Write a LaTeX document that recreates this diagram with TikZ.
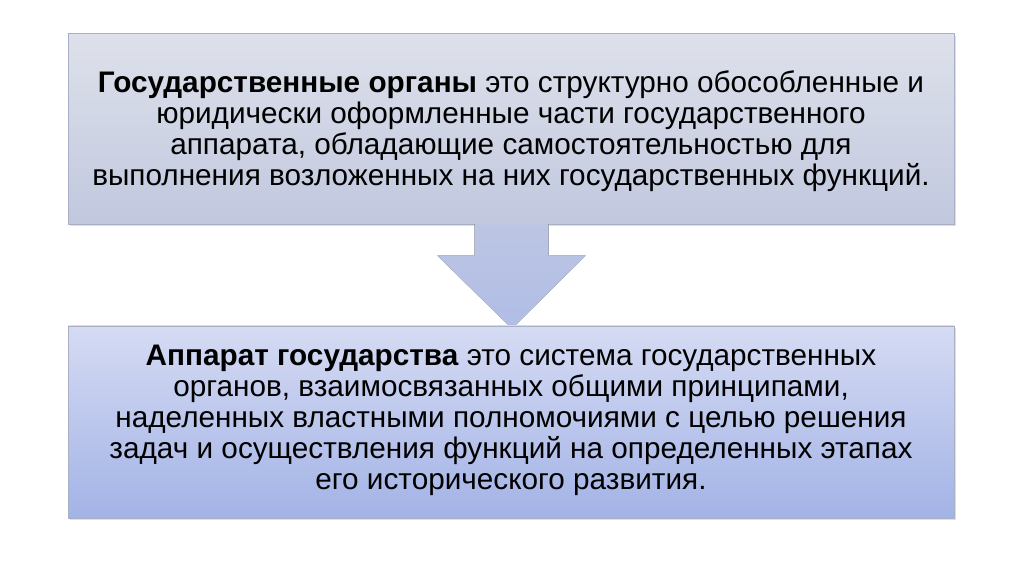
\documentclass[tikz,border=0pt]{standalone}
\usepackage{fontspec}
\setmainfont{Liberation Sans}
\usepackage{tikz}
\usetikzlibrary{calc,shadows}
\definecolor{topA}{HTML}{DEE1EB}
\definecolor{topB}{HTML}{C1C8DE}
\definecolor{botA}{HTML}{D5DBF3}
\definecolor{botB}{HTML}{A3B3E6}
\definecolor{arrA}{HTML}{BCC5E2}
\definecolor{arrB}{HTML}{B0BDE6}
\definecolor{edge}{HTML}{A9AFC4}
\begin{document}
\begin{tikzpicture}[x=0.75pt,y=0.75pt,
		defbox/.style={draw=edge, line width=0.4pt, minimum width=664.5pt, minimum height=143pt, align=center, inner sep=0pt, drop shadow={shadow xshift=1.5pt, shadow yshift=-1.5pt, opacity=0.25}},
		deftext/.style={font=\fontsize{22.3}{23.3}\selectfont}]
		\useasboundingbox (0,0) rectangle (1024,574);
		\node [defbox, top color=topA, bottom color=topB] (organy) at (511,445) {};
		\node [deftext, align=center] (organytext) at (511,443) {\textbf{Государственные органы} это структурно обособленные и\\юридически оформленные части государственного\\аппарата, обладающие самостоятельностью для\\выполнения возложенных на них государственных функций.};
		\fill [top color=arrA, bottom color=arrB]
			($(organy.south)+(-36.5,0.5)$) -- ($(organy.south)+(-36.5,-31)$) -- ($(organy.south)+(-73.5,-31)$)
			-- ($(organy.south)+(1,-104)$) -- ($(organy.south)+(74.5,-31)$) -- ($(organy.south)+(37.5,-31)$)
			-- ($(organy.south)+(37.5,0.5)$) -- cycle;
		\draw [edge!80, line width=0.3pt]
			($(organy.south)+(-36.5,0)$) -- ($(organy.south)+(-36.5,-31)$) -- ($(organy.south)+(-73.5,-31)$)
			-- ($(organy.south)+(1,-104)$) -- ($(organy.south)+(74.5,-31)$) -- ($(organy.south)+(37.5,-31)$)
			-- ($(organy.south)+(37.5,0)$);
		\node [defbox, top color=botA, bottom color=botB, minimum height=144pt] (apparat) at (511,152) {};
		\node [deftext, align=center] (apparattext) at (511,154) {\textbf{Аппарат государства} это система государственных\\органов, взаимосвязанных общими принципами,\\наделенных властными полномочиями с целью решения\\задач и осуществления функций на определенных этапах\\его исторического развития.};
	\end{tikzpicture}
\end{document}
